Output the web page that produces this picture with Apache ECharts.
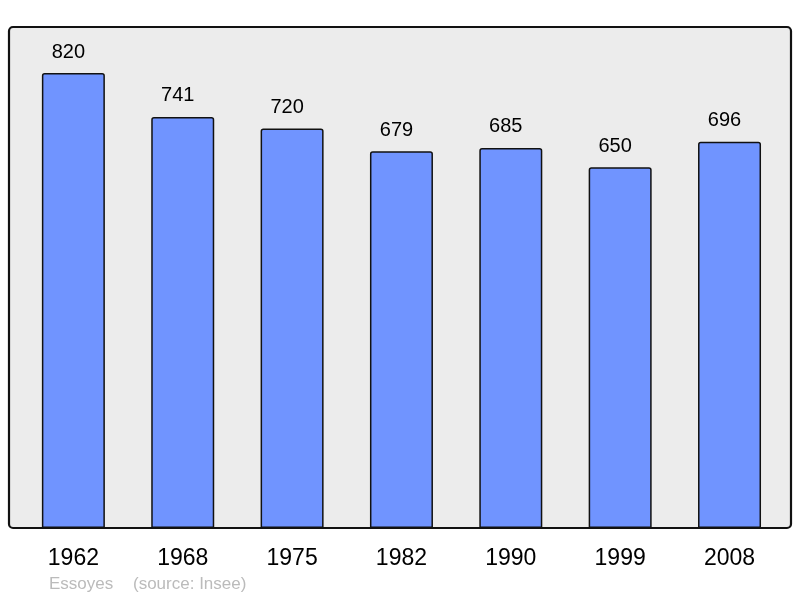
<!DOCTYPE html>
<html lang="fr">
<head>
    <meta charset="UTF-8">
    <title>Essoyes - population</title>
    <script src="https://cdn.jsdelivr.net/npm/echarts@6/dist/echarts.min.js"></script>
    <style>
        html, body { margin: 0; padding: 0; background: #ffffff; }
        #container { width: 800px; height: 598px; }
    </style>
</head>
<body>
<div id="container"></div>
<script>
    // données
    var years = ['1962', '1968', '1975', '1982', '1990', '1999', '2008'];
    var population = [820, 741, 720, 679, 685, 650, 696];
    var yMax = 903;

    var myChart = echarts.init(document.getElementById('container'), null, {renderer: 'canvas'});

    var option = {
        animation: false,
        textStyle: { fontFamily: 'Liberation Sans, Arial, sans-serif' },
        grid: { left: 18.7, right: 15.8, top: 27, bottom: 70, containLabel: false },
        graphic: [
            {
                type: 'rect', z: -10, silent: true,
                shape: { x: 9, y: 27, width: 782, height: 501, r: 4 },
                style: { fill: '#ececec', stroke: '#111111', lineWidth: 2.2 }
            },
            {
                type: 'text', left: 49, top: 576,
                style: { text: 'Essoyes', fill: '#bbbbbb', font: '17px "Liberation Sans", Arial, sans-serif' }
            },
            {
                type: 'text', left: 133, top: 576,
                style: { text: '(source: Insee)', fill: '#bbbbbb', font: '17px "Liberation Sans", Arial, sans-serif' }
            }
        ],
        xAxis: {
            type: 'category',
            data: years,
            axisLine: { show: false },
            axisTick: { show: false },
            axisLabel: { color: '#000', fontSize: 23, margin: 19 }
        },
        yAxis: {
            type: 'value',
            min: 0,
            max: yMax,
            show: false,
            splitLine: { show: false }
        },
        series: [
            {
                type: 'bar',
                data: population,
                barWidth: 63,
                itemStyle: {
                    color: '#7094ff',
                    borderColor: '#111111',
                    borderWidth: 1.5,
                    borderRadius: [2, 2, 0, 0]
                },
                label: {
                    show: true,
                    position: 'top',
                    distance: 11,
                    offset: [-5, 0],
                    color: '#000',
                    fontSize: 20
                }
            }
        ]
    };

    myChart.setOption(option);
    window.addEventListener('resize', myChart.resize);
</script>
</body>
</html>
